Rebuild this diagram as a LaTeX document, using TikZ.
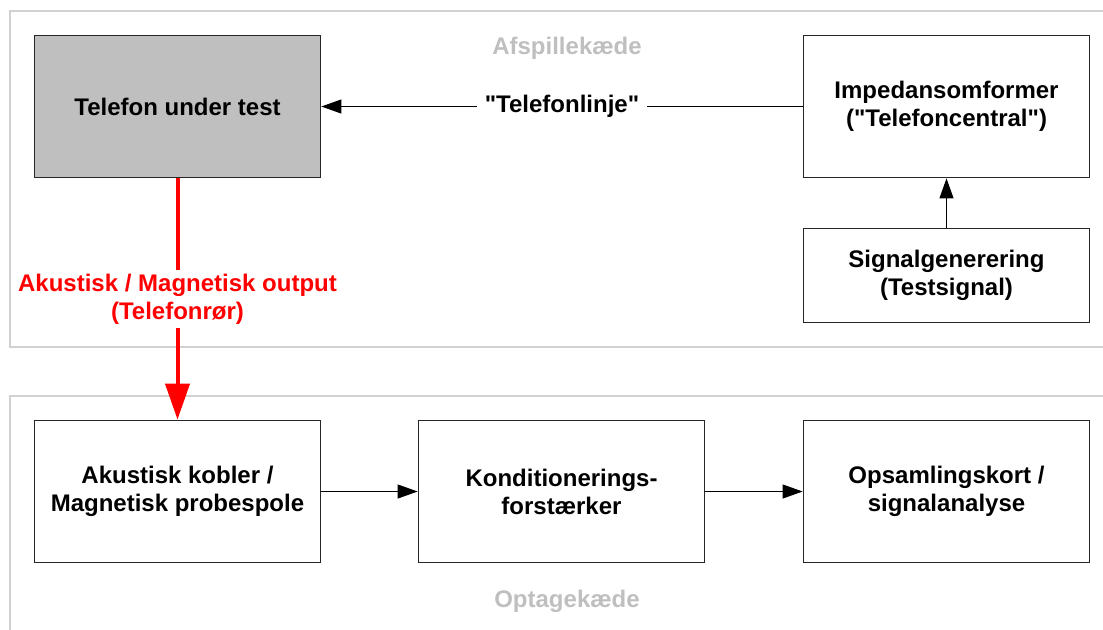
\documentclass[tikz,border=0pt]{standalone}
\usepackage{fontspec}
\setmainfont{Liberation Sans}
\newfontfamily\arialfont{Liberation Sans}
\usetikzlibrary{positioning, arrows.meta}

\begin{document}
\begin{tikzpicture}
            [x=0.75pt, y=-0.75pt,
             block/.style={rectangle, draw=black!85, line width=0.8pt, align=center,
                           minimum width=215pt, minimum height=107pt, inner sep=0pt,
                           font=\arialfont\fontsize{18}{21}\selectfont\bfseries},
             chain/.style={draw=black!18, line width=1.1pt},
             chainlabel/.style={text=black!25, font=\arialfont\fontsize{18}{21}\selectfont\bfseries},
             >={Triangle[length=15pt, width=10.5pt]}]
            \useasboundingbox (0,0) rectangle (1103,629);
            \draw[chain] (1120,11) -- (10,11) -- (10,347) -- (1120,347);
            \draw[chain] (1120,396) -- (10,396) -- (10,640);
            \node[chainlabel] (afsp) at (567,48) {Afspillekæde};
            \node[chainlabel] (optg) at (567,601) {Optagekæde};

            \node[block, fill=black!25] (tel) at (177.5,106.5) {Telefon under test};
            \node[block] (imp) at (946.5,106.5) {Impedansomformer\\("Telefoncentral")};
            \node[block, minimum height=70pt] (sig) at (946.5,275.5) {Signalgenerering\\(Testsignal)};
            \node[block] (kob) at (177.5,491.5) {Akustisk kobler /\\Magnetisk probespole};
            \node[block] (kon) at (561.5,491.5) {Konditionerings-\\forstærker};
            \node[block] (ops) at (946.5,491.5) {Opsamlingskort /\\signalanalyse};

            \path [->, line width=0.75pt] (imp) edge node[fill=white, inner xsep=6pt,
                font=\arialfont\fontsize{18}{21}\selectfont\bfseries] {"Telefonlinje"} (tel);
            \path [->, line width=0.75pt] (sig) edge (imp);
            \path [->, line width=0.75pt] (kob) edge (kon);
            \path [->, line width=0.75pt] (kon) edge (ops);
            \draw [red, line width=3pt, -{Triangle[length=27pt, width=18pt]}] (tel) --
                node[fill=white, text=red, align=center, inner sep=3pt,
                font=\arialfont\fontsize{18}{21}\selectfont\bfseries]
                {Akustisk / Magnetisk output\\(Telefonrør)} (kob);
        \end{tikzpicture}
\end{document}
